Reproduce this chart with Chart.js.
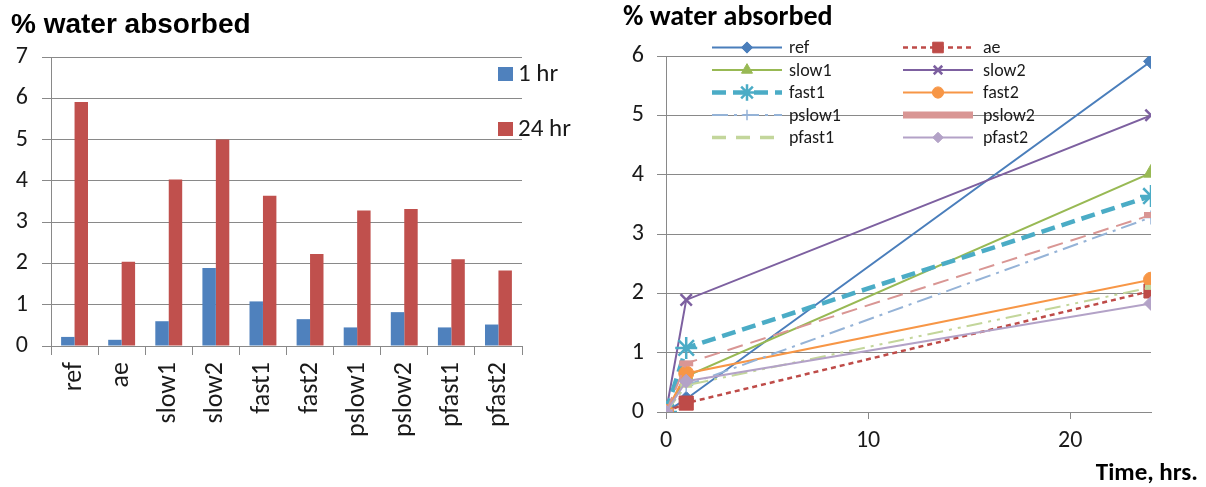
<!DOCTYPE html>
<html>
<head>
<meta charset="utf-8">
<script src="https://cdn.jsdelivr.net/npm/chart.js@4.4.1/dist/chart.umd.min.js"></script>
<style>
  html, body { margin: 0; padding: 0; background: #fff; }
  #wrap { position: relative; width: 1206px; height: 487px; overflow: hidden; }
  #barChart { position: absolute; left: 0; top: 0; }
  #timeChart { position: absolute; left: 600px; top: 0; }
</style>
</head>
<body>
<div id="wrap">
  <canvas id="barChart" width="600" height="487"></canvas>
  <canvas id="timeChart" width="606" height="487"></canvas>
</div>
<script>
// ---- data ----
const categories = ['ref', 'ae', 'slow1', 'slow2', 'fast1', 'fast2', 'pslow1', 'pslow2', 'pfast1', 'pfast2'];
const hr0  = [0, 0, 0, 0, 0, 0, 0, 0, 0, 0];
const hr1  = [0.22, 0.15, 0.60, 1.89, 1.08, 0.65, 0.45, 0.82, 0.45, 0.52];
const hr24 = [5.91, 2.04, 4.03, 5.00, 3.64, 2.23, 3.28, 3.32, 2.10, 1.83];
const times = [0, 1, 24];
const barSeriesNames = ['1 hr', '24 hr'];
const timeTicks = [0, 10, 20];

// ---- look ----
const GRID = '#898989';
const TXT = '#1a1a1a';
const FONT = 'Carlito, Calibri, Lato, sans-serif';

const lineLook = {
  ref:    { color: '#4A7EBB', width: 2,   dash: [],                  mark: 'rectRot',  r: 7.5, bw: 1 },
  ae:     { color: '#BE4B48', width: 2.5, dash: [5, 4],              mark: 'rect',     r: 10,  bw: 1 },
  slow1:  { color: '#98B954', width: 2,   dash: [],                  mark: 'triangle', r: 8.5, bw: 1 },
  slow2:  { color: '#7D60A0', width: 2,   dash: [],                  mark: 'crossRot', r: 8,   bw: 2.5 },
  fast1:  { color: '#4BACC6', width: 4.5, dash: [14, 7],             mark: 'star',     r: 11,  bw: 2.5 },
  fast2:  { color: '#F79646', width: 2,   dash: [],                  mark: 'circle',   r: 7.5, bw: 1 },
  pslow1: { color: '#95B3D7', width: 2,   dash: [16, 6, 3, 6],       mark: 'cross',    r: 7,   bw: 1.5 },
  pslow2: { color: '#D99694', width: 2,   dash: [16, 8],             mark: 'line',     r: 7,   bw: 6,   keyWidth: 7,   keyDash: [] },
  pfast1: { color: '#C3D69B', width: 2,   dash: [16, 6, 3, 6, 3, 6], mark: 'line',     r: 6,   bw: 5,   keyWidth: 3.5, keyDash: [14, 10] },
  pfast2: { color: '#B3A2C7', width: 2,   dash: [],                  mark: 'rectRot',  r: 7,   bw: 1 }
};

// ---- left: grouped bars ----
const barDecor = {
  id: 'barDecor',
  afterDraw(chart) {
    const ctx = chart.ctx;
    ctx.save();
    ctx.fillStyle = '#000';
    ctx.textBaseline = 'alphabetic';
    ctx.textAlign = 'left';
    ctx.font = 'bold 28px "Liberation Sans", Arial, sans-serif';
    ctx.fillText('% water absorbed', 11, 33);
    const rows = [74, 129];
    chart.data.datasets.forEach((ds, i) => {
      const y = rows[i];
      ctx.fillStyle = ds.backgroundColor;
      ctx.fillRect(498, y - 7, 15, 14);
      ctx.fillStyle = TXT;
      ctx.font = '25px ' + FONT;
      ctx.textBaseline = 'middle';
      ctx.fillText(ds.label, 518, y + 1);
    });
    ctx.restore();
  }
};

new Chart(document.getElementById('barChart'), {
  type: 'bar',
  data: {
    labels: categories,
    datasets: [
      { label: barSeriesNames[0], data: hr1,  backgroundColor: '#4F81BD', categoryPercentage: 0.571, barPercentage: 1.0 },
      { label: barSeriesNames[1], data: hr24, backgroundColor: '#C0504D', categoryPercentage: 0.571, barPercentage: 1.0 }
    ]
  },
  options: {
    responsive: false,
    animation: false,
    devicePixelRatio: 1,
    layout: { padding: { top: 57, right: 78, bottom: 0, left: 0 } },
    plugins: { legend: { display: false }, tooltip: { enabled: false } },
    scales: {
      x: {
        grid: { drawOnChartArea: false, color: GRID, tickLength: 9, offset: true },
        border: { color: GRID },
        ticks: { color: TXT, font: { family: FONT, size: 26 }, maxRotation: 90, minRotation: 90, padding: 7, autoSkip: false },
        afterFit: s => { s.height = 141; }
      },
      y: {
        min: 0, max: 7,
        grid: { color: GRID, tickLength: 9 },
        border: { color: GRID },
        ticks: { stepSize: 1, color: TXT, font: { family: FONT, size: 24 }, padding: 14 },
        afterFit: s => { s.width = 51; }
      }
    }
  },
  plugins: [barDecor]
});

// ---- right: absorption over time ----
const timeDatasets = categories.map((name, i) => {
  const lk = lineLook[name];
  return {
    label: name,
    data: times.map((t, k) => ({ x: t, y: [hr0, hr1, hr24][k][i] })),
    borderColor: lk.color,
    backgroundColor: lk.color,
    borderWidth: lk.width,
    borderDash: lk.dash,
    pointStyle: lk.mark,
    pointRadius: lk.r,
    pointBorderWidth: lk.bw,
    pointBackgroundColor: lk.color,
    pointBorderColor: lk.color,
    tension: 0,
    order: categories.length - 1 - i,
    keyWidth: lk.keyWidth,
    keyDash: lk.keyDash
  };
});

const timeDecor = {
  id: 'timeDecor',
  afterDraw(chart) {
    const ctx = chart.ctx;
    ctx.save();
    ctx.fillStyle = '#000';
    ctx.textAlign = 'left';
    ctx.textBaseline = 'alphabetic';
    ctx.font = 'bold 28px ' + FONT;
    ctx.fillText('% water absorbed', 23, 25);
    ctx.textAlign = 'right';
    ctx.font = 'bold 25px ' + FONT;
    ctx.fillText('Time, hrs.', 598, 480);

    // two-column key
    const cols = [{ x0: 112, x1: 182, tx: 189 }, { x0: 303, x1: 373, tx: 383 }];
    const drawPoint = Chart.helpers && Chart.helpers.drawPoint;
    chart.data.datasets.forEach((ds, i) => {
      const c = cols[i % 2];
      const y = 47.5 + Math.floor(i / 2) * 22.5;
      ctx.strokeStyle = ds.borderColor;
      ctx.fillStyle = ds.borderColor;
      ctx.lineWidth = ds.keyWidth || ds.borderWidth;
      ctx.setLineDash(ds.keyDash || ds.borderDash || []);
      ctx.lineCap = 'butt';
      ctx.beginPath();
      ctx.moveTo(c.x0, y);
      ctx.lineTo(c.x1, y);
      ctx.stroke();
      ctx.setLineDash([]);
      if (ds.pointStyle !== 'line' && drawPoint) {
        ctx.lineWidth = ds.pointBorderWidth;
        drawPoint(ctx, { pointStyle: ds.pointStyle, radius: ds.pointRadius * 0.75, borderWidth: ds.pointBorderWidth, rotation: 0 }, (c.x0 + c.x1) / 2, y);
      }
      ctx.fillStyle = TXT;
      ctx.textAlign = 'left';
      ctx.textBaseline = 'middle';
      ctx.font = '18px ' + FONT;
      ctx.fillText(ds.label, c.tx, y + 1);
    });
    ctx.restore();
  }
};

new Chart(document.getElementById('timeChart'), {
  type: 'line',
  data: { datasets: timeDatasets },
  options: {
    responsive: false,
    animation: false,
    devicePixelRatio: 1,
    layout: { padding: { top: 56, right: 55, bottom: 0, left: 0 } },
    plugins: { legend: { display: false }, tooltip: { enabled: false } },
    scales: {
      x: {
        type: 'linear',
        min: 0, max: 24,
        grid: { drawOnChartArea: false, color: GRID, tickLength: 7 },
        border: { color: GRID },
        ticks: { stepSize: 10, color: TXT, font: { family: FONT, size: 24 }, padding: 8, maxRotation: 0 },
        afterBuildTicks: s => { s.ticks = timeTicks.map(v => ({ value: v })); },
        afterFit: s => { s.height = 75; }
      },
      y: {
        min: 0, max: 6,
        grid: { color: GRID, tickLength: 9 },
        border: { color: GRID },
        ticks: { stepSize: 1, color: TXT, font: { family: FONT, size: 24 }, padding: 13 },
        afterFit: s => { s.width = 66; }
      }
    }
  },
  plugins: [timeDecor]
});
</script>
</body>
</html>
